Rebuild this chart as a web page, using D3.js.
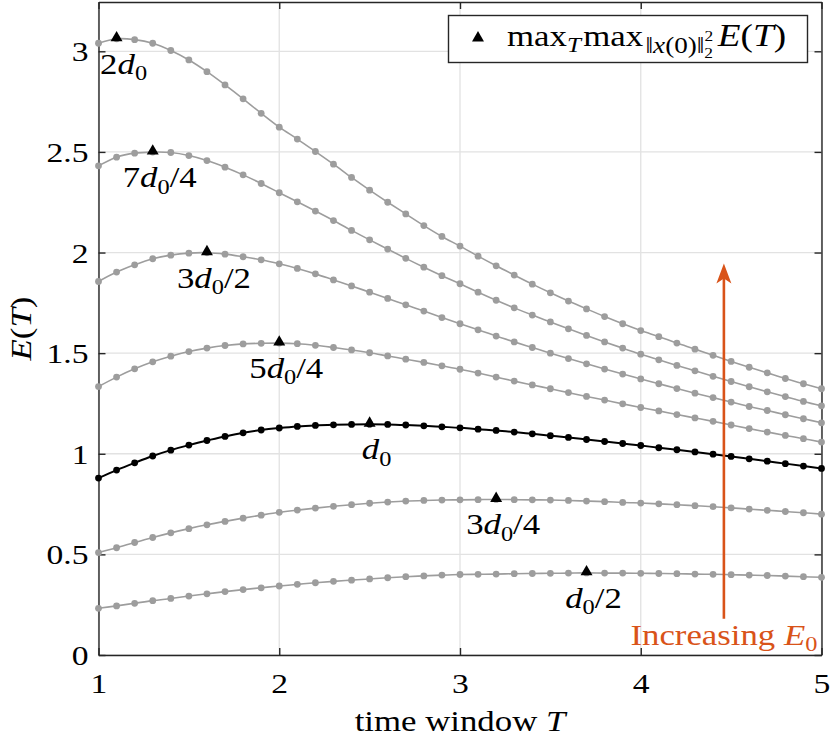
<!DOCTYPE html>
<html>
<head>
<meta charset="utf-8">
<script src="https://cdn.jsdelivr.net/npm/d3@7"></script>
<style>
  body { margin: 0; background: #fff; }
  svg text { font-family: 'Liberation Serif', 'Times New Roman', serif; }
</style>
</head>
<body>
<div id="chart"></div>
<script>
// time window values (x)
const T = [1.0, 1.1, 1.2, 1.3, 1.4, 1.5, 1.6, 1.7, 1.8, 1.9,
           2.0, 2.1, 2.2, 2.3, 2.4, 2.5, 2.6, 2.7, 2.8, 2.9,
           3.0, 3.1, 3.2, 3.3, 3.4, 3.5, 3.6, 3.7, 3.8, 3.9,
           4.0, 4.1, 4.2, 4.3, 4.4, 4.5, 4.6, 4.7, 4.8, 4.9, 5.0];

// E(T) for each initial energy
const E_2d0 = [3.040, 3.062, 3.058, 3.040, 3.004, 2.957, 2.899, 2.833, 2.764, 2.692,
               2.623, 2.564, 2.502, 2.439, 2.373, 2.310, 2.250, 2.192, 2.134, 2.080,
               2.032, 1.982, 1.934, 1.888, 1.843, 1.800, 1.759, 1.720, 1.682, 1.646,
               1.612, 1.582, 1.550, 1.520, 1.489, 1.459, 1.430, 1.402, 1.374, 1.348, 1.323];
const E_7d0_4 = [2.431, 2.474, 2.494, 2.499, 2.497, 2.482, 2.457, 2.424, 2.386, 2.343,
                 2.297, 2.252, 2.206, 2.159, 2.110, 2.063, 2.017, 1.971, 1.927, 1.885,
                 1.845, 1.803, 1.763, 1.725, 1.689, 1.655, 1.621, 1.588, 1.556, 1.525,
                 1.495, 1.467, 1.439, 1.412, 1.385, 1.359, 1.333, 1.308, 1.284, 1.260, 1.238];
const E_3d0_2 = [1.856, 1.903, 1.939, 1.969, 1.987, 1.997, 1.999, 1.992, 1.979, 1.964,
                 1.944, 1.921, 1.894, 1.864, 1.834, 1.803, 1.772, 1.740, 1.709, 1.677,
                 1.646, 1.616, 1.585, 1.556, 1.528, 1.500, 1.473, 1.447, 1.421, 1.396,
                 1.372, 1.348, 1.324, 1.301, 1.279, 1.257, 1.235, 1.215, 1.194, 1.174, 1.154];
const E_5d0_4 = [1.334, 1.381, 1.422, 1.457, 1.485, 1.508, 1.525, 1.538, 1.546, 1.549,
                 1.550, 1.547, 1.539, 1.528, 1.516, 1.502, 1.486, 1.470, 1.454, 1.437,
                 1.420, 1.401, 1.381, 1.361, 1.342, 1.323, 1.304, 1.285, 1.267, 1.248,
                 1.230, 1.213, 1.195, 1.178, 1.161, 1.143, 1.125, 1.108, 1.091, 1.075, 1.058];
const E_d0 = [0.879, 0.919, 0.955, 0.989, 1.018, 1.043, 1.066, 1.086, 1.104, 1.118,
              1.128, 1.136, 1.141, 1.144, 1.146, 1.147, 1.146, 1.143, 1.139, 1.134,
              1.129, 1.122, 1.116, 1.108, 1.099, 1.090, 1.081, 1.071, 1.061, 1.051,
              1.041, 1.030, 1.020, 1.009, 0.998, 0.987, 0.975, 0.963, 0.951, 0.939, 0.927];
const E_3d0_4 = [0.509, 0.533, 0.559, 0.584, 0.607, 0.628, 0.647, 0.664, 0.680, 0.695,
                 0.709, 0.720, 0.730, 0.739, 0.747, 0.754, 0.760, 0.765, 0.768, 0.770,
                 0.771, 0.772, 0.773, 0.772, 0.771, 0.770, 0.768, 0.765, 0.762, 0.758,
                 0.755, 0.751, 0.747, 0.742, 0.737, 0.731, 0.725, 0.719, 0.713, 0.707, 0.700];
const E_d0_2 = [0.232, 0.244, 0.257, 0.270, 0.281, 0.293, 0.304, 0.315, 0.325, 0.334,
                0.343, 0.351, 0.359, 0.366, 0.372, 0.378, 0.384, 0.389, 0.393, 0.397,
                0.400, 0.401, 0.402, 0.404, 0.405, 0.406, 0.407, 0.408, 0.407, 0.407,
                0.406, 0.405, 0.404, 0.402, 0.401, 0.399, 0.397, 0.395, 0.392, 0.389, 0.386];

const seriesValues = [E_2d0, E_7d0_4, E_3d0_2, E_5d0_4, E_d0, E_3d0_4, E_d0_2];
const seriesLabels = ['2d0', '7d0/4', '3d0/2', '5d0/4', 'd0', '3d0/4', 'd0/2'];
const peakT = [1.1, 1.3, 1.6, 2.0, 2.5, 3.2, 3.7];   // triangle = max over T
const highlight = 'd0';

const xTicks = [1, 2, 3, 4, 5];
const yTicks = [0, 0.5, 1, 1.5, 2, 2.5, 3];
const xLabels = ['1', '2', '3', '4', '5'];
const yLabels = ['0', '0.5', '1', '1.5', '2', '2.5', '3'];
const yMax = 3.245;

// arrow "Increasing E0"
const arrowT = 4.46, arrowFrom = 0.18, arrowTo = 1.945;

// ---- layout
const width = 830, height = 738;
const plot = { left: 98.5, right: 821.5, top: 2, bottom: 655 };
const sx = 1.2;      // the figure's text is a bit wide, stretch glyphs
const axisColor = '#262626';
const gridColor = '#e2e2e2';
const gray = '#9d9d9d';
const orange = '#D95319';

const svg = d3.select('#chart').append('svg')
    .attr('width', width)
    .attr('height', height)
    .attr('viewBox', [0, 0, width, height]);

const x = d3.scaleLinear().domain([1, 5]).range([plot.left, plot.right]);
const y = d3.scaleLinear().domain([0, yMax]).range([plot.bottom, plot.top]);

// text with simple math parts: {t, it, scale, shift, dx}
function mathText(g, px, py, size, parts, opts = {}) {
  const anchor = opts.anchor || 'start';
  let tf = `translate(${px},${py})`;
  if (opts.rotate) tf += ` rotate(${opts.rotate})`;
  tf += ` scale(${sx},1)`;
  const txt = g.append('text')
      .attr('transform', tf)
      .attr('text-anchor', anchor)
      .attr('font-size', size)
      .attr('fill', opts.color || '#000');
  let shift = 0;
  parts.forEach(p => {
    const fs = size * (p.scale || 1);
    const target = (p.shift || 0) * size;
    const ts = txt.append('tspan')
        .attr('font-size', fs)
        .attr('dy', target - shift)
        .text(p.t);
    if (p.it) ts.attr('font-style', 'italic');
    if (p.dx) ts.attr('dx', p.dx);
    shift = target;
  });
  return txt;
}

function dLabel(str) {
  const [pre, post] = str.split('d0');
  const parts = [];
  if (pre) parts.push({ t: pre });
  parts.push({ t: 'd', it: true });
  parts.push({ t: '0', scale: 0.7, shift: 0.22 });
  if (post) parts.push({ t: post });
  return parts;
}

// ---- grid
const grid = svg.append('g').attr('stroke', gridColor).attr('stroke-width', 1.3);
grid.selectAll('.gx').data(xTicks).join('line')
    .attr('x1', d => x(d)).attr('x2', d => x(d))
    .attr('y1', y(0)).attr('y2', y(yMax));
grid.selectAll('.gy').data(yTicks).join('line')
    .attr('x1', x(1)).attr('x2', x(5))
    .attr('y1', d => y(d)).attr('y2', d => y(d));

// ---- axes (box, ticks inward)
function styleAxis(g) {
  g.select('.domain').attr('stroke', axisColor).attr('stroke-width', 1.4);
  g.selectAll('.tick line').attr('stroke', axisColor).attr('stroke-width', 1.4);
}

const gx = svg.append('g')
    .attr('transform', `translate(0,${y(0)})`)
    .call(d3.axisBottom(x).tickValues(xTicks).tickSize(-7).tickSizeOuter(0)
        .tickFormat((d, i) => xLabels[i]))
    .call(styleAxis);
gx.attr('font-family', null);
gx.selectAll('.tick text')
    .attr('y', 0).attr('dy', 0)
    .attr('transform', `translate(0,38) scale(${sx},1)`)
    .attr('font-size', 28).attr('fill', '#000');

const gy = svg.append('g')
    .attr('transform', `translate(${x(1)},0)`)
    .call(d3.axisLeft(y).tickValues(yTicks).tickSize(-7).tickSizeOuter(0)
        .tickFormat((d, i) => yLabels[i]))
    .call(styleAxis);
gy.attr('font-family', null);
gy.selectAll('.tick text')
    .attr('x', 0).attr('dy', '0.34em')
    .attr('transform', `translate(-10,0) scale(${sx},1)`)
    .attr('font-size', 28).attr('fill', '#000');

svg.append('g')
    .attr('transform', `translate(0,${y(yMax)})`)
    .call(d3.axisTop(x).tickValues(xTicks).tickSize(-7).tickSizeOuter(0).tickFormat(''))
    .call(styleAxis);
svg.append('g')
    .attr('transform', `translate(${x(5)},0)`)
    .call(d3.axisRight(y).tickValues(yTicks).tickSize(-7).tickSizeOuter(0).tickFormat(''))
    .call(styleAxis);

// ---- series
const line = d3.line()
    .x((d, i) => x(T[i]))
    .y(d => y(d))
    .curve(d3.curveCatmullRom);

const series = seriesValues.map((v, i) => ({
  values: v,
  label: seriesLabels[i],
  peak: peakT[i],
  color: seriesLabels[i] === highlight ? '#000' : gray
}));

const gs = svg.append('g');
series.forEach(s => {
  const g = gs.append('g');
  g.append('path')
      .attr('d', line(s.values))
      .attr('fill', 'none')
      .attr('stroke', s.color)
      .attr('stroke-width', s.color === '#000' ? 2 : 1.6);
  g.selectAll('circle').data(s.values).join('circle')
      .attr('cx', (d, i) => x(T[i]))
      .attr('cy', d => y(d))
      .attr('r', 3.4)
      .attr('fill', s.color);
});

// peak markers + labels
const tri = d3.symbol(d3.symbolTriangle).size(62);
const gp = svg.append('g');
series.forEach(s => {
  const k = T.findIndex(t => Math.abs(t - s.peak) < 1e-9);
  const px = x(s.peak), py = y(s.values[k]);
  gp.append('path')
      .attr('d', tri())
      .attr('transform', `translate(${px},${py - 1})`)
      .attr('fill', '#000');
  mathText(gp, px + 7, py + 35, 29, dLabel(s.label), { anchor: 'middle' });
});

// ---- arrow
const ax = x(arrowT), ay0 = y(arrowFrom), ay1 = y(arrowTo);
svg.append('line')
    .attr('x1', ax).attr('x2', ax)
    .attr('y1', ay0).attr('y2', ay1 + 12)
    .attr('stroke', orange).attr('stroke-width', 2.6);
svg.append('path')
    .attr('d', `M${ax},${ay1} L${ax - 7.5},${ay1 + 20} L${ax},${ay1 + 15} L${ax + 7.5},${ay1 + 20} Z`)
    .attr('fill', orange);
mathText(svg, ax, y(0) - 10, 29, [
  { t: 'Increasing ' },
  { t: 'E', it: true },
  { t: '0', scale: 0.7, shift: 0.22 }
], { anchor: 'middle', color: orange });

// ---- axis titles
mathText(svg, x(3), 731, 29, [
  { t: 'time window ' },
  { t: 'T', it: true }
], { anchor: 'middle' });
mathText(svg, 31, (y(0) + y(yMax)) / 2, 29, [
  { t: 'E', it: true },
  { t: '(' },
  { t: 'T', it: true },
  { t: ')' }
], { anchor: 'middle', rotate: -90 });

// ---- legend
const lg = svg.append('g');
lg.append('rect')
    .attr('x', 448.5).attr('y', 15.5)
    .attr('width', 359).attr('height', 47)
    .attr('fill', '#fff')
    .attr('stroke', axisColor).attr('stroke-width', 1.4);
lg.append('path')
    .attr('d', tri())
    .attr('transform', 'translate(478,38)')
    .attr('fill', '#000');
mathText(lg, 507, 46, 29, [
  { t: 'max' },
  { t: 'T', it: true, scale: 0.72, shift: 0.22 },
  { t: 'max', dx: 2 },
  { t: '‖', scale: 0.78, shift: 0.24, dx: 2 },
  { t: 'x', it: true, scale: 0.78, shift: 0.24 },
  { t: '(0)‖', scale: 0.78, shift: 0.24 },
  { t: '2', scale: 0.5, shift: -0.18 },
  { t: '2', scale: 0.5, shift: 0.42, dx: -7.3 },
  { t: 'E', it: true, dx: 4, scale: 1.07 },
  { t: '(', scale: 1.07 },
  { t: 'T', it: true, scale: 1.07 },
  { t: ')', scale: 1.07 }
]);
</script>
</body>
</html>
